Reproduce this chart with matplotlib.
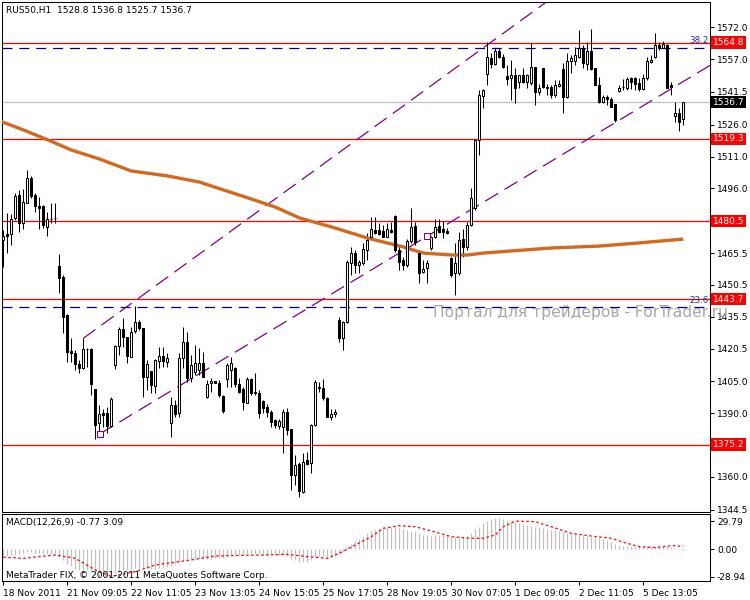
import matplotlib
matplotlib.use("Agg")
import matplotlib.pyplot as plt
from matplotlib.transforms import blended_transform_factory
import numpy as np

# ---------------- data ----------------
title = "RUS50,H1  1528.8 1536.8 1525.7 1536.7"
opens = [1471.7, 1474.5, 1474.5, 1481.9, 1492.9, 1479.5, 1489.3, 1500.8, 1492.9, 1487.7,
         1487.7, 1478.0, 1481.4, 1481.9, 1459.4, 1454.1, 1436.1, 1419.5, 1418.5, 1413.2,
         1411.1, 1420.1, 1420.1, 1401.2, 1385.2, 1389.9, 1389.9, 1383.9, 1412.7, 1421.7,
         1429.5, 1425.8, 1416.7, 1428.9, 1433.2, 1430.0, 1406.9, 1410.0, 1402.8, 1414.6,
         1417.0, 1414.3, 1385.2, 1393.8, 1389.9, 1415.8, 1423.7, 1406.4, 1409.6, 1410.3,
         1413.5, 1397.4, 1404.1, 1405.2, 1404.1, 1398.1, 1405.9, 1410.3, 1411.1, 1403.6,
         1401.2, 1394.9, 1405.9, 1400.1, 1399.6, 1395.7, 1392.7, 1390.7, 1386.8, 1383.9,
         1383.6, 1390.7, 1382.4, 1360.8, 1366.0, 1353.0, 1367.9, 1366.3, 1384.4, 1402.0,
         1401.7, 1397.0, 1388.3, 1389.6, 1433.9, 1425.3, 1433.0, 1460.8, 1465.5, 1459.9,
         1460.8, 1467.0, 1473.1, 1476.4, 1476.4, 1475.9, 1473.1, 1476.4, 1483.0, 1467.0,
         1462.2, 1459.9, 1471.2, 1478.3, 1465.5, 1456.6, 1458.5, 1467.9, 1473.1, 1478.3,
         1476.9, 1475.9, 1463.2, 1456.1, 1456.1, 1472.1, 1468.4, 1478.7, 1486.8, 1518.8,
         1539.6, 1550.0, 1557.5, 1554.7, 1560.8, 1558.0, 1549.0, 1547.9, 1549.5, 1546.1,
         1549.5, 1546.1, 1545.6, 1553.4, 1541.3, 1553.0, 1543.2, 1544.0, 1540.1, 1544.5,
         1552.3, 1539.3, 1556.1, 1556.1, 1558.1, 1562.4, 1554.5, 1560.8, 1552.7, 1544.8,
         1536.6, 1539.3, 1538.2, 1535.7, 1542.0, 1543.7, 1543.2, 1547.9, 1547.9, 1545.6,
         1542.9, 1547.9, 1555.5, 1558.1, 1563.7, 1562.4, 1563.7, 1544.8, 1530.3, 1531.4,
         1528.8]
highs = [1476.4, 1484.2, 1483.9, 1493.7, 1495.3, 1495.6, 1504.7, 1501.9, 1493.7, 1492.1,
         1488.2, 1485.0, 1489.3, 1489.3, 1465.1, 1455.2, 1436.8, 1425.3, 1419.8, 1415.1,
         1425.3, 1420.6, 1420.6, 1401.2, 1393.9, 1391.8, 1393.1, 1397.5, 1422.1, 1430.8,
         1434.7, 1426.1, 1430.8, 1440.5, 1433.9, 1430.0, 1415.1, 1410.0, 1415.4, 1421.4,
         1421.1, 1418.2, 1397.8, 1396.2, 1418.2, 1430.8, 1428.4, 1417.4, 1422.1, 1420.6,
         1419.0, 1405.6, 1406.4, 1405.3, 1405.6, 1398.6, 1413.5, 1416.6, 1411.9, 1406.4,
         1402.5, 1407.2, 1406.4, 1408.8, 1400.9, 1396.2, 1394.3, 1391.5, 1387.4, 1387.4,
         1391.8, 1392.3, 1382.4, 1370.3, 1367.1, 1371.4, 1371.8, 1384.9, 1405.6, 1404.8,
         1405.9, 1397.4, 1391.8, 1391.8, 1435.5, 1433.5, 1462.0, 1468.4, 1467.0, 1462.2,
         1470.3, 1475.0, 1482.5, 1482.5, 1479.7, 1478.7, 1479.7, 1480.2, 1483.5, 1469.3,
         1463.7, 1472.1, 1486.8, 1480.2, 1467.0, 1462.2, 1462.2, 1473.6, 1481.6, 1481.6,
         1480.6, 1477.3, 1463.7, 1470.3, 1475.4, 1476.9, 1480.2, 1496.2, 1519.3, 1542.4,
         1542.9, 1565.1, 1559.9, 1562.2, 1562.2, 1559.4, 1554.2, 1556.6, 1552.7, 1549.5,
         1552.7, 1549.8, 1564.5, 1553.4, 1545.1, 1553.0, 1545.1, 1544.8, 1547.2, 1547.2,
         1555.0, 1559.7, 1559.0, 1562.9, 1570.7, 1563.7, 1565.2, 1571.2, 1552.7, 1548.7,
         1540.1, 1540.1, 1539.3, 1535.7, 1544.8, 1547.6, 1548.7, 1548.7, 1548.7, 1547.9,
         1549.8, 1558.1, 1559.0, 1569.2, 1565.2, 1565.5, 1563.9, 1546.3, 1536.9, 1533.8,
         1536.8]
lows = [1459.1, 1465.7, 1469.3, 1481.1, 1475.6, 1476.7, 1489.0, 1491.3, 1485.0, 1476.7,
        1477.2, 1473.6, 1479.5, 1479.5, 1446.8, 1427.9, 1414.3, 1414.3, 1410.4, 1408.8,
        1410.7, 1411.9, 1398.6, 1377.7, 1380.5, 1383.6, 1380.8, 1383.6, 1410.7, 1417.4,
        1421.4, 1413.8, 1416.7, 1427.9, 1429.2, 1397.5, 1400.9, 1399.4, 1399.4, 1411.1,
        1411.9, 1411.9, 1378.9, 1388.3, 1388.3, 1411.1, 1404.8, 1404.8, 1408.0, 1408.0,
        1407.2, 1397.0, 1400.1, 1404.1, 1397.8, 1390.2, 1402.5, 1402.5, 1402.5, 1399.3,
        1391.5, 1394.6, 1398.6, 1398.6, 1387.6, 1389.9, 1388.3, 1383.3, 1382.8, 1382.4,
        1371.0, 1379.7, 1353.8, 1356.1, 1350.6, 1352.2, 1365.5, 1361.6, 1383.9, 1400.1,
        1396.2, 1388.3, 1386.8, 1388.3, 1423.7, 1419.8, 1432.5, 1455.2, 1456.1, 1456.1,
        1459.9, 1462.2, 1472.6, 1474.5, 1474.0, 1473.1, 1473.1, 1475.0, 1466.0, 1457.5,
        1457.5, 1459.0, 1470.3, 1469.3, 1451.4, 1456.1, 1451.4, 1467.0, 1472.6, 1475.0,
        1472.6, 1474.5, 1454.2, 1445.7, 1455.2, 1463.7, 1467.0, 1478.3, 1485.8, 1511.8,
        1533.9, 1544.8, 1552.8, 1554.2, 1557.5, 1552.8, 1544.8, 1537.7, 1536.2, 1543.2,
        1545.5, 1543.2, 1544.8, 1535.4, 1540.1, 1543.5, 1540.1, 1538.8, 1539.3, 1544.0,
        1531.4, 1538.8, 1550.3, 1554.2, 1557.4, 1552.7, 1551.9, 1551.9, 1544.8, 1536.2,
        1536.2, 1535.4, 1534.6, 1527.2, 1541.6, 1542.4, 1542.4, 1542.9, 1542.4, 1542.0,
        1542.4, 1547.2, 1555.0, 1557.7, 1561.3, 1562.1, 1543.5, 1540.1, 1527.5, 1523.1,
        1525.7]
closes = [1473.6, 1473.6, 1481.4, 1492.4, 1479.5, 1489.7, 1500.8, 1492.4, 1487.7, 1486.9,
          1478.7, 1481.4, 1481.6, 1482.0, 1453.6, 1435.5, 1419.0, 1418.5, 1413.2, 1411.1,
          1420.1, 1420.3, 1403.8, 1384.4, 1389.6, 1389.1, 1383.9, 1396.5, 1421.7, 1429.5,
          1425.8, 1417.0, 1428.4, 1433.2, 1430.0, 1406.9, 1413.2, 1403.3, 1415.1, 1417.0,
          1414.4, 1415.9, 1393.8, 1389.6, 1415.8, 1423.7, 1406.4, 1412.7, 1413.5, 1413.5,
          1407.2, 1403.7, 1405.3, 1404.1, 1398.6, 1391.2, 1412.7, 1413.5, 1403.6, 1400.1,
          1395.4, 1405.9, 1399.6, 1399.3, 1389.9, 1392.3, 1390.7, 1386.0, 1384.4, 1386.5,
          1390.7, 1382.0, 1360.8, 1365.5, 1353.4, 1367.1, 1366.0, 1384.4, 1404.8, 1402.4,
          1397.0, 1388.3, 1389.6, 1390.7, 1425.3, 1433.1, 1461.4, 1465.5, 1459.9, 1461.3,
          1467.4, 1471.7, 1476.9, 1475.0, 1474.5, 1473.1, 1476.9, 1475.4, 1467.0, 1461.3,
          1459.9, 1471.2, 1477.8, 1470.7, 1456.1, 1458.0, 1460.8, 1473.1, 1477.8, 1475.4,
          1475.4, 1475.0, 1455.2, 1460.8, 1471.7, 1468.4, 1478.7, 1491.5, 1518.8, 1540.1,
          1542.4, 1558.0, 1554.7, 1560.8, 1558.0, 1553.3, 1547.6, 1549.5, 1543.5, 1549.5,
          1546.1, 1549.5, 1553.4, 1541.3, 1543.2, 1544.0, 1544.0, 1540.1, 1544.8, 1545.1,
          1539.3, 1556.1, 1557.4, 1559.0, 1562.4, 1555.0, 1560.8, 1552.3, 1544.8, 1536.6,
          1539.3, 1538.2, 1534.6, 1528.3, 1543.5, 1543.8, 1547.6, 1546.3, 1545.1, 1542.9,
          1547.9, 1556.1, 1556.6, 1563.7, 1562.4, 1564.0, 1543.5, 1544.0, 1531.4, 1527.5,
          1536.7]

# moving average (bar index, value)
ma_idx = [-0.5, 5, 12, 17, 24, 32, 41, 49, 55, 62, 68, 74, 83, 91, 100, 105, 112, 116,
          120, 127, 137, 149, 159, 170]
ma_val = [1527.5, 1523.6, 1518.2, 1514.1, 1509.9, 1504.2, 1501.9, 1499.0, 1495.3, 1491.0,
          1487.2, 1482.1, 1477.3, 1472.6, 1468.4, 1465.5, 1464.6, 1464.6, 1465.5, 1466.5,
          1467.9, 1468.8, 1470.3, 1472.1]

red_levels = [1564.8, 1519.3, 1480.5, 1443.7, 1375.2]
last_price = 1536.7
fib_levels = [1562.4, 1439.9]
fib_labels = ["38.2", "23.6"]
# trend lines: (bar index, price) anchors
lower_line = [(24.2, 1380.3), (106.0, 1473.5)]
upper_line = [(20.0, 1425.3), (120.0, 1562.3)]

price_ticks = [1572.0, 1557.0, 1541.5, 1526.0, 1511.0, 1496.0, 1465.5, 1450.5,
               1435.5, 1420.5, 1405.0, 1390.0, 1360.0, 1344.5]

macd_hist = [-7, -7, -6, -6, -5, -4, -3, -3, -4, -4, -5, -5, -5, -5,
             -8, -11, -15, -18, -21, -22, -22, -22, -24, -27, -28, -28, -28, -27, -25, -23, -22,
             -22, -21, -20, -20, -20, -21, -21, -21, -20, -19, -19, -18,
             -16, -13, -11, -11, -10, -10, -10, -10, -10, -10, -9, -9, -9,
             -7, -6, -6, -6, -6, -5, -5, -5, -5, -6, -6, -6, -6, -6, -6,
             -7, -10, -11, -13, -13, -13, -11, -8, -7, -7, -8, -8, -7, -5,
             -3, 2, 6, 9, 11, 14, 17, 19, 21, 22, 23, 24, 24, 23, 22, 21,
             20, 19, 19, 17, 15, 15, 14, 15, 15, 15, 15, 13, 13, 13, 13, 14,
             17, 21, 24, 28, 30, 32, 33, 33, 32, 31, 30, 29, 28, 27,
             26, 25, 24, 23, 22, 21, 20, 20, 19, 18, 17, 16, 16, 15, 15, 14, 13, 13, 12, 11,
             10, 8, 6, 5, 4, 3, 3, 3, 3, 3, 3, 4, 4, 4, 4, 3, 2, 1, 0, -0.77]
sig_idx = [0, 5, 13, 18, 23, 27, 33, 38, 47, 53, 65, 71, 76, 81, 84, 88, 92, 95, 99, 103,
           107, 112, 117, 120, 123, 125, 128, 133, 137, 142, 147, 152, 155, 159, 163, 167, 170]
sig_val = [-8.4, -9.5, -6.0, -9.5, -21.7, -28.7, -23.5, -16.5, -11.2, -7.0, -6.0, -5.3,
           -7.7, -9.5, -4.2, 4.6, 13.3, 22.1, 24.9, 23.8, 19.3, 13.3, 11.6, 11.6, 15.1, 23.8,
           29.8, 29.1, 23.8, 16.8, 14.0, 11.6, 7.4, 2.8, 1.8, 3.9, 3.09]
macd_ticks = [29.79, 0.00, -28.94]
macd_ticklabels = ["29.79", "0.00", "-28.94"]

time_tick_idx = [0, 16, 32, 48, 64, 80, 96, 112, 128, 144, 160]
time_labels = ["18 Nov 2011", "21 Nov 09:05", "22 Nov 11:05", "23 Nov 13:05", "24 Nov 15:05",
               "25 Nov 17:05", "28 Nov 19:05", "30 Nov 07:05", "1 Dec 09:05", "2 Dec 11:05",
               "5 Dec 13:05"]

# ---------------- figure ----------------
W, H = 750, 600
plt.rcParams['font.family'] = ['DejaVu Sans']
fig = plt.figure(figsize=(7.5, 6), dpi=100)
fig.patch.set_facecolor('white')


def px_axes(x0, y0, x1, y1):
    return fig.add_axes([x0 / W, 1 - y1 / H, (x1 - x0) / W, (y1 - y0) / H])


ax = px_axes(2, 2, 710, 512)
mx = px_axes(2, 514, 710, 581)

XL = (-0.325, 176.675)
FS = 6.5
LW = 0.75

O = np.array(opens); Hh = np.array(highs); L = np.array(lows); C = np.array(closes)
idx = np.arange(len(O))

ax.set_xlim(*XL)
ax.set_ylim(1343.4, 1583.9)

# horizontal levels
for lv in red_levels:
    ax.axhline(lv, color='#ff0000', lw=0.9, zorder=1)
ax.axhline(last_price, color='#c0c0c0', lw=0.9, zorder=1)
for lv, lab in zip(fib_levels, fib_labels):
    ax.axhline(lv, color='#000080', lw=0.9, dashes=(8, 5.5), zorder=1)
    ax.text(0.9975, lv + 1.2, lab, transform=blended_transform_factory(ax.transAxes, ax.transData),
            ha='right', va='bottom', color='#2030a0', fontsize=6.3, zorder=6)

# trend lines
for (i0, p0), (i1, p1) in [lower_line, upper_line]:
    slope = (p1 - p0) / (i1 - i0)
    xs = np.array([i0, XL[1]])
    ax.plot(xs, p0 + slope * (xs - i0), color='#800080', lw=0.9, dashes=(12, 6), zorder=2)
ax.plot([lower_line[0][0], lower_line[1][0]], [lower_line[0][1], lower_line[1][1]],
        ls='none', marker='s', ms=4, mfc='white', mec='#800080', mew=0.8, zorder=6)

# moving average
ax.plot(ma_idx, ma_val, color='#d2691e', lw=2.4, solid_capstyle='butt', zorder=4)

# candles
ax.vlines(idx, L, Hh, color='black', lw=LW, zorder=3)
up = C >= O
bot = np.minimum(O, C)
hgt = np.maximum(np.abs(C - O), 0.15)
ax.bar(idx[up], hgt[up], bottom=bot[up], width=0.5, color='white', edgecolor='black',
       linewidth=LW, zorder=5)
ax.bar(idx[~up], hgt[~up], bottom=bot[~up], width=0.5, color='black', edgecolor='black',
       linewidth=LW, zorder=5)

# axes styling
for a in (ax, mx):
    for s in a.spines.values():
        s.set_color('black')
        s.set_linewidth(LW)
ax.yaxis.tick_right()
ax.set_yticks(price_ticks)
ax.set_yticklabels([f"{t:.1f}" for t in price_ticks])
ax.tick_params(axis='y', direction='out', length=3, width=LW, labelsize=FS, pad=2)
ax.set_xticks([])

tb = blended_transform_factory(ax.transAxes, ax.transData)
for lv in red_levels:
    ax.text(1.0 + 2.5 / 708, lv, f"{lv:.1f}", transform=tb, ha='left', va='center',
            color='white', fontsize=FS, zorder=8, clip_on=False,
            bbox=dict(boxstyle='square,pad=0.18', fc='#ff0000', ec='none'))
ax.text(1.0 + 2.5 / 708, last_price, f"{last_price:.1f}", transform=tb, ha='left', va='center',
        color='white', fontsize=FS, zorder=8, clip_on=False,
        bbox=dict(boxstyle='square,pad=0.18', fc='black', ec='none'))

# MACD panel
mx.set_xlim(*XL)
mx.set_ylim(-33.4, 37.2)
mx.vlines(idx, 0, macd_hist, color='#c0c0c0', lw=0.9, zorder=2)
mx.plot(sig_idx, sig_val, color='#ff0000', lw=0.9, dashes=(2, 2), zorder=3)
mx.yaxis.tick_right()
mx.set_yticks(macd_ticks)
mx.set_yticklabels(macd_ticklabels)
mx.tick_params(axis='y', direction='out', length=3, width=LW, labelsize=FS, pad=2)
mx.set_xticks(time_tick_idx)
mx.set_xticklabels(time_labels)
mx.tick_params(axis='x', direction='out', length=3, width=LW, labelsize=FS, pad=3)
for lbl in mx.get_xticklabels():
    lbl.set_ha('left')

# texts
fig.text(6 / W, 1 - 10 / H, title, fontsize=FS, va='center', ha='left')
fig.text(6 / W, 1 - 523 / H, "MACD(12,26,9) -0.77 3.09", fontsize=FS, va='center', ha='left')
fig.text(6 / W, 1 - 575 / H, "MetaTrader FIX, \u00a9 2001-2011 MetaQuotes Software Corp.",
         fontsize=FS, va='center', ha='left')
fig.text(433 / W, 1 - 313 / H, "Портал для трейдеров - ForTrader.ru", fontsize=11.2,
         color='#a39c9c', va='center', ha='left', alpha=0.9, zorder=20)

fig.savefig('out.png', dpi=100, facecolor='white')
